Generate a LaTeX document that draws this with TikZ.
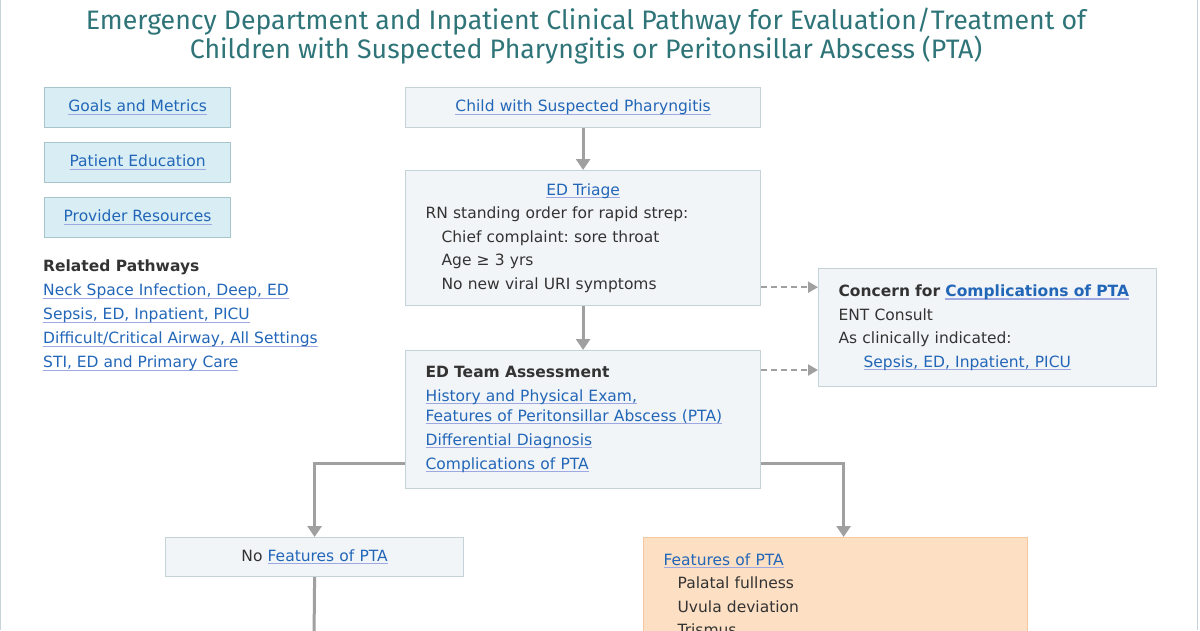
\documentclass[tikz,border=0pt]{standalone}
\usepackage{fontspec}
\setmainfont{DejaVu Sans}
\newfontfamily\titlefont{Fira Sans}
\usetikzlibrary{arrows.meta, positioning}
\frenchspacing

\definecolor{titleteal}{HTML}{2E7478}
\definecolor{linkblue}{HTML}{2266B8}
\definecolor{linkline}{HTML}{9EA9E2}
\definecolor{bodygray}{HTML}{333333}
\definecolor{boxfill}{HTML}{F2F5F7}
\definecolor{boxline}{HTML}{C5D3D8}
\definecolor{sidefill}{HTML}{D8EEF4}
\definecolor{sideline}{HTML}{A7C6CC}
\definecolor{ptafill}{HTML}{FDDFC3}
\definecolor{ptaline}{HTML}{F4C7A0}
\definecolor{arrowgray}{HTML}{A0A0A0}
\definecolor{framegray}{HTML}{C8D4DC}

% link text with a light underline
\newsavebox\lnkbox
\newcommand\lnk[1]{\leavevmode\begingroup\sbox\lnkbox{\color{linkblue}#1}%
  \rlap{\color{linkline}\rule[-3pt]{\wd\lnkbox}{1.2pt}}\usebox\lnkbox\endgroup}

\begin{document}
\begin{tikzpicture}[x=1pt, y=-1pt,
    every node/.style={font=\fontsize{15.5}{20}\selectfont, text=bodygray},
    sidebox/.style={draw=sideline, fill=sidefill, line width=1.2pt, anchor=north west,
      minimum width=186, minimum height=40, inner sep=0pt},
    stepbox/.style={draw=boxline, fill=boxfill, line width=1.2pt, anchor=north west,
      minimum width=355, inner xsep=20pt, text width=315pt, align=left},
    flowline/.style={draw=arrowgray, line width=3pt},
    flow/.style={flowline, -{Triangle[width=14pt,length=11pt]}},
    dashflow/.style={draw=arrowgray, line width=2.2pt, dash pattern=on 6pt off 4pt,
      -{Triangle[width=11pt,length=10pt]}}]
  \useasboundingbox (0,0) rectangle (1200,630);
  \clip (0,0) rectangle (1200,630);
  \draw[framegray, line width=1.2pt] (0.6,0) -- (0.6,630) (1197.5,0) -- (1197.5,630);

  % title
  \node (title) at (586,36) [font=\titlefont\fontsize{26.7}{27}\selectfont, text=titleteal, align=center]
    {Emergency Department and Inpatient Clinical Pathway for Evaluation/Treatment of\\
     Children with Suspected Pharyngitis or Peritonsillar Abscess (PTA)};

  % side links
  \node [sidebox] (goals) at (44,87) {\lnk{Goals and Metrics}};
  \node [sidebox] (educ) at (44,142) {\lnk{Patient Education}};
  \node [sidebox] (resources) at (44,197) {\lnk{Provider Resources}};
  \node [anchor=north west, inner sep=0pt, align=left] (related) at (43,260)
    {\textbf{Related Pathways}\\[4pt]
     \lnk{Neck Space Infection, Deep, ED}\\[4pt]
     \lnk{Sepsis, ED, Inpatient, PICU}\\[4pt]
     \lnk{Difficult/Critical Airway, All Settings}\\[4pt]
     \lnk{STI, ED and Primary Care}};

  % main steps
  \node [stepbox, align=center, minimum height=40] (child) at (405,87)
    {\lnk{Child with Suspected Pharyngitis}};
  \node [stepbox, minimum height=135] (triage) at (405,170)
    {\makebox[\linewidth]{\lnk{ED Triage}}\\[3.5pt]
     RN standing order for rapid strep:\\[3.5pt]
     \hspace*{16pt}Chief complaint: sore throat\\[3.5pt]
     \hspace*{16pt}Age ≥ 3 yrs\\[3.5pt]
     \hspace*{16pt}No new viral URI symptoms};
  \node [stepbox, minimum height=138] (team) at (405,350)
    {\textbf{ED Team Assessment}\\[3.5pt]
     \lnk{History and Physical Exam,}\\
     \lnk{Features of Peritonsillar Abscess (PTA)}\\[4pt]
     \lnk{Differential Diagnosis}\\[4pt]
     \lnk{Complications of PTA}};
  \node [stepbox, minimum width=338, text width=298pt, minimum height=118] (concern) at (818,268)
    {\textbf{Concern for \lnk{Complications of PTA}}\\[3.5pt]
     ENT Consult\\[3.5pt]
     As clinically indicated:\\[3.5pt]
     \hspace*{25pt}\lnk{Sepsis, ED, Inpatient, PICU}};
  \node [stepbox, align=center, minimum width=298, text width=258pt, minimum height=39] (nopta) at (165,537)
    {No \lnk{Features of PTA}};
  \node [stepbox, draw=ptaline, fill=ptafill, minimum width=384, text width=344pt, inner ysep=16pt] (pta) at (643,537)
    {\lnk{Features of PTA}\\[3.5pt]
     \hspace*{14pt}Palatal fullness\\[3.5pt]
     \hspace*{14pt}Uvula deviation\\[3.5pt]
     \hspace*{14pt}Trismus};
  \coordinate (offpage) at (314,640);

  % connectors
  \draw [flow] (child) -- (triage);
  \draw [flow] (triage) -- (team);
  \draw [dashflow] ([yshift=19pt]triage.south east) -- ([yshift=19pt]triage.south east -| concern.west);
  \draw [dashflow] ([yshift=-20pt]team.north east) -- ([yshift=-20pt]team.north east -| concern.west);
  \draw [flow] ([yshift=26pt]team.south west) -| (nopta.north);
  \draw [flow] ([yshift=26pt]team.south east) -| ([xshift=8pt]pta.north);
  \draw [flowline] (nopta.south) -- (offpage);
\end{tikzpicture}
\end{document}
